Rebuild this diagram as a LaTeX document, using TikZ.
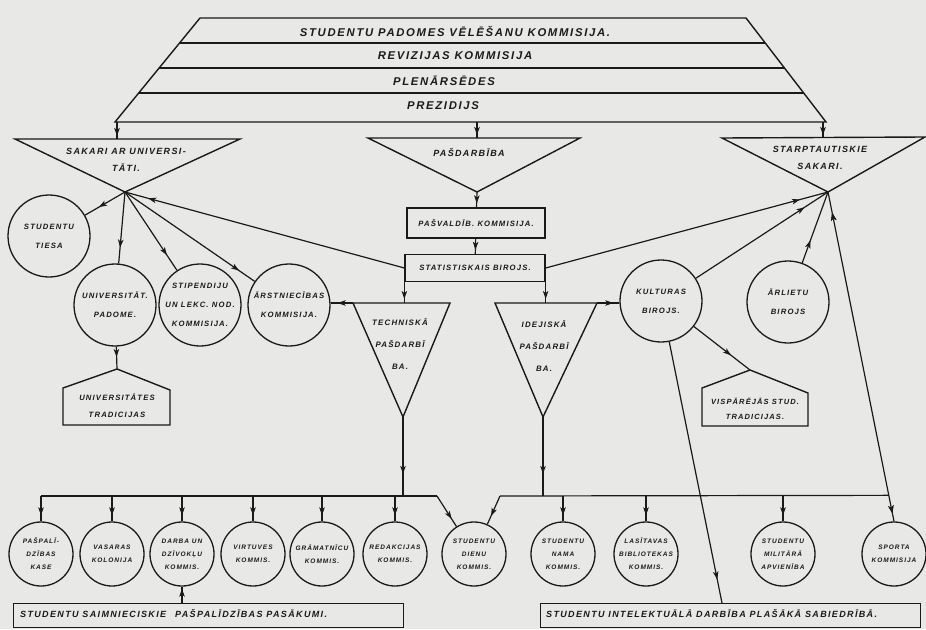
\documentclass[tikz,border=0pt]{standalone}
\usepackage{fontspec}
\setmainfont{Liberation Sans}[LetterSpace=15]
\usetikzlibrary{arrows.meta,decorations.markings,calc}
\definecolor{inkc}{HTML}{1A1A1A}
\definecolor{paper}{HTML}{E8E8E6}
\tikzset{
  ink/.style={draw=inkc, line width=1.2pt},
  hand/.style={text=inkc, align=center, inner sep=0pt},
  fbig/.style={font=\fontsize{11.3}{13}\selectfont\bfseries\itshape},
  ftri/.style={font=\fontsize{9}{17}\selectfont\bfseries\itshape},
  fmid/.style={font=\fontsize{7.7}{19}\selectfont\bfseries\itshape},
  fsm/.style={font=\fontsize{6.5}{13}\selectfont\bfseries\itshape},
  fbar/.style={font=\fontsize{9}{11}\selectfont\bfseries\itshape},
  bigc/.style={circle, draw=inkc, line width=1.3pt, minimum size=82pt, inner sep=0pt, hand, fmid},
  smc/.style={circle, draw=inkc, line width=1.3pt, minimum size=64pt, inner sep=0pt, hand, fsm},
  boxn/.style={rectangle, draw=inkc, line width=1.3pt, inner sep=0pt, hand, fmid},
  arw/.style={postaction={decorate}, decoration={markings, mark=at position #1 with {\arrow{Stealth[length=8pt,width=5.5pt,inset=2pt]}}}},
  arw/.default=-8pt,
  rarw/.style={postaction={decorate}, decoration={markings, mark=at position #1 with {\arrowreversed{Stealth[length=8pt,width=5.5pt,inset=2pt]}}}},
}
\begin{document}
\begin{tikzpicture}[x=1pt,y=-1pt]
\fill[paper] (0,0) rectangle (926,629);
\useasboundingbox (0,0) rectangle (926,629);

% ---------- top trapezoid ----------
\coordinate (tTL) at (200,18);
\coordinate (tTR) at (746,18);
\coordinate (tBL) at (115,122);
\coordinate (tBR) at (826,122);
\draw[ink, line width=1.4pt] (tTL) -- (tTR) -- (tBR) -- (tBL) -- cycle;
\foreach \f in {0.24,0.481,0.721}
  \draw[ink] ($(tTL)!\f!(tBL)$) -- ($(tTR)!\f!(tBR)$);
\node[hand,fbig] (t1) at (455,31) {STUDENTU PADOMES VĒLĒŠANU KOMMISIJA.};
\node[hand,fbig] (t2) at (455,56) {REVIZIJAS KOMMISIJA};
\node[hand,fbig] (t3) at (444,81) {PLENĀRSĒDES};
\node[hand,fbig] (t4) at (443,106) {PREZIDIJS};

% ---------- three top triangles ----------
\coordinate (sakTL) at (15,139);
\coordinate (sakTR) at (240,139);
\coordinate (sakA) at (125,192);
\draw[ink, line width=1.4pt] (sakTL) -- (sakTR) -- (sakA) -- cycle;
\node[hand,ftri] (sakT) at (126,160) {SAKARI AR UNIVERSI-\\TĀTI.};

\coordinate (pdTL) at (368,138);
\coordinate (pdTR) at (580,138);
\coordinate (pdA) at (477,192);
\draw[ink, line width=1.4pt] (pdTL) -- (pdTR) -- (pdA) -- cycle;
\node[hand,ftri] (pdT) at (469,153) {PAŠDARBĪBA};

\coordinate (stTL) at (722,138);
\coordinate (stTR) at (925,137);
\coordinate (stA) at (828,192);
\draw[ink, line width=1.4pt] (stTL) -- (stTR) -- (stA) -- cycle;
\node[hand,ftri] (stT) at (820,158) {STARPTAUTISKIE\\SAKARI.};

\coordinate (d1) at (117,122);
\coordinate (d2) at (477,122);
\coordinate (d3) at (823,122);
\draw[ink, arw=-3pt] (d1) -- (d1 |- sakTL);
\draw[ink, arw=-3pt] (d2) -- (d2 |- pdTL);
\draw[ink, arw=-3pt] (d3) -- (d3 |- stTL);

% ---------- middle boxes ----------
\node[boxn, minimum width=138pt, minimum height=30pt] (pasv) at (476,223) {PAŠVALDĪB. KOMMISIJA.};
\node[boxn, minimum width=140pt, minimum height=27pt] (stat) at (475,268) {STATISTISKAIS BIROJS.};
\draw[ink, arw=-4pt] (pdA) -- (pasv);
\draw[ink, arw=-4pt] (pasv) -- (stat);

% ---------- left circles ----------
\node[bigc] (tiesa) at (49,236) {STUDENTU\\TIESA};
\node[bigc] (unip) at (115,305) {UNIVERSITĀT.\\PADOME.};
\node[bigc] (stip) at (200,305) {STIPENDIJU\\UN LEKC. NOD.\\KOMMISIJA.};
\node[bigc] (arst) at (289,305) {ĀRSTNIECĪBAS\\KOMMISIJA.};

\draw[ink, arw=-16pt] (sakA) -- (tiesa);
\draw[ink, arw=-16pt] (sakA) -- (unip);
\draw[ink, arw=-18pt] (sakA) -- (stip);
\draw[ink, arw=-19pt] (sakA) -- (arst);
\draw[ink, arw=-24pt] (stat.west) -- (sakA);

% Universitates tradicijas
\coordinate (utP) at (117,369);
\draw[ink, line width=1.4pt] (utP) -- (63,388) -- (63,425) -- (170,425) -- (170,390) -- cycle;
\node[hand,font=\fontsize{7.7}{17}\selectfont\bfseries\itshape] (utT) at (117,406) {UNIVERSITĀTES\\TRADICIJAS};
\draw[ink, arw=-12pt] (unip) -- (utP);

% ---------- right circles ----------
\node[bigc] (kult) at (661,301) {KULTURAS\\BIROJS.};
\node[bigc] (arl) at (788,302) {ĀRLIETU\\BIROJS};
\draw[ink, arw=-28pt] (kult) -- (stA);
\draw[ink, arw=24pt] (arl) -- (stA);
\draw[ink, arw=-29pt] (stat.east) -- (stA);

\coordinate (visP) at (750,370);
\draw[ink, line width=1.4pt] (visP) -- (702,388) -- (702,426) -- (808,426) -- (808,393) -- cycle;
\node[hand,font=\fontsize{7.5}{15}\selectfont\bfseries\itshape] (visT) at (755,409) {VISPĀRĒJĀS STUD.\\TRADICIJAS.};
\draw[ink, arw=-24pt] (kult) -- (visP);

% ---------- lower triangles ----------
\coordinate (techTL) at (353,303);
\coordinate (techTR) at (450,303);
\coordinate (techA) at (403,417);
\draw[ink, line width=1.4pt] (techTL) -- (techTR) -- (techA) -- cycle;
\node[hand,font=\fontsize{7.9}{22}\selectfont\bfseries\itshape] (techT) at (400,344) {TECHNISKĀ\\PAŠDARBĪ\\BA.};

\coordinate (ideTL) at (495,303);
\coordinate (ideTR) at (597,303);
\coordinate (ideA) at (543,417);
\draw[ink, line width=1.4pt] (ideTL) -- (ideTR) -- (ideA) -- cycle;
\node[hand,font=\fontsize{7.9}{22}\selectfont\bfseries\itshape] (ideT) at (544,346) {IDEJISKĀ\\PAŠDARBĪ\\BA.};

\draw[ink, arw=-4pt] (stat.south west) -- (stat.south west |- techTL);
\draw[ink, arw=-4pt] (stat.south east) -- (stat.south east |- ideTL);
\draw[ink, arw=-7pt] (techTL) -- (techTL -| arst.east);
\draw[ink, arw=-6pt] (ideTR) -- (ideTR -| kult.west);

% ---------- bottom circles ----------
\node[smc] (c1) at (41,554) {PAŠPALĪ-\\DZĪBAS\\KASE};
\node[smc] (c2) at (112,554) {VASARAS\\KOLONIJA};
\node[smc] (c3) at (182,554) {DARBA UN\\DZĪVOKĻU\\KOMMIS.};
\node[smc] (c4) at (253,554) {VIRTUVES\\KOMMIS.};
\node[smc] (c5) at (322,554) {GRĀMATNĪCU\\KOMMIS.};
\node[smc] (c6) at (395,554) {REDAKCIJAS\\KOMMIS.};
\node[smc] (dien) at (474,554) {STUDENTU\\DIENU\\KOMMIS.};
\node[smc] (c8) at (563,554) {STUDENTU\\NAMA\\KOMMIS.};
\node[smc] (c9) at (646,554) {LASĪTAVAS\\BIBLIOTEKAS\\KOMMIS.};
\node[smc] (c10) at (783,554) {STUDENTU\\MILITĀRĀ\\APVIENĪBA};
\node[smc] (sport) at (894,554) {SPORTA\\KOMMISIJA};

% buses
\coordinate (busL) at (41,496);
\coordinate (busLE) at (437,496);
\coordinate (busRS) at (500,496);
\coordinate (busRE) at ($(stA)!0.921!(sport.north)$);
\draw[ink] (busL) -- (busLE);
\draw[ink, arw=-9pt] (busLE) -- (dien);
\draw[ink] (busRS) -- (busRE);
\draw[ink, arw=-9pt] (busRS) -- (dien);
\draw[ink, arw=-22pt] (techA) -- (techA |- busL);
\draw[ink, arw=-22pt] (ideA) -- (ideA |- busL);
\foreach \n in {c1,c2,c3,c4,c5,c6,c8,c9,c10}
  \draw[ink, arw=-6pt] (\n |- busL) -- (\n);
\draw[ink, rarw=21pt, arw=-8pt] (stA) -- (sport.north);

% ---------- bottom bars ----------
\node[rectangle, draw=inkc, line width=1.3pt, minimum width=390pt, minimum height=24pt, anchor=north west, inner sep=0pt] (barL) at (13,603) {};
\node[hand,fbar,anchor=west] (barLt) at (20,614) {STUDENTU SAIMNIECISKIE\quad PAŠPALĪDZĪBAS PASĀKUMI.};
\node[rectangle, draw=inkc, line width=1.3pt, minimum width=380pt, minimum height=24pt, anchor=north west, inner sep=0pt] (barR) at (540,603) {};
\node[hand,fbar,anchor=west] (barRt) at (546,614) {STUDENTU INTELEKTUĀLĀ DARBĪBA PLAŠĀKĀ SABIEDRĪBĀ.};

\coordinate (kbar) at (722,603);
\draw[ink, arw=-24pt] (kult) -- (kbar);
\draw[ink, arw=-2pt] (barL.north -| c3) -- (c3);
\end{tikzpicture}
\end{document}
